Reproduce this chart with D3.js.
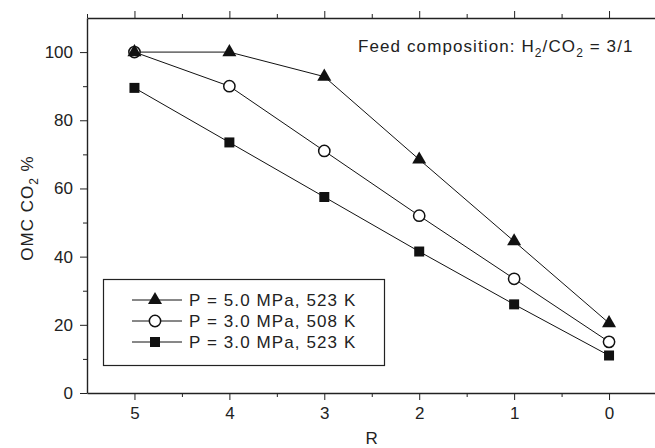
<!DOCTYPE html>
<html>
<head>
<meta charset="utf-8">
<script src="https://cdn.jsdelivr.net/npm/d3@7"></script>
<style>
  body { margin: 0; background: #fff; }
  svg { display: block; font-family: "Liberation Sans", Arial, sans-serif; }
  .axis path, .axis line { stroke: #222; }
  .axis path { stroke-width: 1.4; }
  .axis text { font-size: 17px; fill: #222; font-family: "Liberation Sans", Arial, sans-serif; }
</style>
</head>
<body>
<div class="container"></div>
<script>
const WIDTH = 655;
const HEIGHT = 448;

const rValues = [5, 4, 3, 2, 1, 0];
const omc5_523 = [100, 100, 92.8, 68.5, 44.5, 20.5];
const omc3_508 = [100, 90, 71, 52, 33.5, 15];
const omc3_523 = [89.5, 73.5, 57.5, 41.5, 26, 11];
const seriesNames = ["P = 5.0 MPa, 523 K", "P = 3.0 MPa, 508 K", "P = 3.0 MPa, 523 K"];
const xTicks = [5, 4, 3, 2, 1, 0];
const xMinor = [4.5, 3.5, 2.5, 1.5, 0.5];
const yTicks = [0, 20, 40, 60, 80, 100];
const yMinor = [10, 30, 50, 70, 90];

var xScale = d3.scaleLinear().domain([5.5, -0.5]).range([87, 656.5]);
var yScale = d3.scaleLinear().domain([0, 110]).range([393, 18]);

var translate = function(x, y){
    return "translate(" + x + "," + y + ")";
};

var svg = d3.select('.container').append('svg')
    .attr('width', WIDTH)
    .attr('height', HEIGHT);

// axes: bottom, top, left (no right axis visible)
svg.append('g').attr('class', 'axis')
    .attr('transform', translate(0, yScale(0)))
    .call(d3.axisBottom(xScale).tickValues(xTicks).tickFormat(d3.format('d'))
        .tickSize(7).tickPadding(7).tickSizeOuter(0));
svg.append('g').attr('class', 'axis')
    .attr('transform', translate(0, yScale(0)))
    .call(d3.axisBottom(xScale).tickValues(xMinor).tickSize(4).tickFormat('').tickSizeOuter(0))
    .select('.domain').remove();

svg.append('g').attr('class', 'axis')
    .attr('transform', translate(0, yScale(110)))
    .call(d3.axisTop(xScale).tickValues(xTicks).tickSize(7).tickFormat('').tickSizeOuter(0));
svg.append('g').attr('class', 'axis')
    .attr('transform', translate(0, yScale(110)))
    .call(d3.axisTop(xScale).tickValues(xMinor.concat([5.5])).tickSize(4).tickFormat('').tickSizeOuter(0))
    .select('.domain').remove();

svg.append('g').attr('class', 'axis')
    .attr('transform', translate(xScale(5.5), 0))
    .call(d3.axisLeft(yScale).tickValues(yTicks).tickFormat(d3.format('d'))
        .tickSize(7).tickPadding(7).tickSizeOuter(0));
svg.append('g').attr('class', 'axis')
    .attr('transform', translate(xScale(5.5), 0))
    .call(d3.axisLeft(yScale).tickValues(yMinor).tickSize(4).tickFormat('').tickSizeOuter(0))
    .select('.domain').remove();

// axis titles
svg.append('text')
    .attr('x', (xScale(5.5) + xScale(-0.5)) / 2)
    .attr('y', 444)
    .attr('text-anchor', 'middle')
    .style('font-size', '17px').style('fill', '#222')
    .text('R');

var yTitle = svg.append('text')
    .attr('transform', translate(33, 208) + ' rotate(-90)')
    .attr('text-anchor', 'middle')
    .style('font-size', '17px').style('fill', '#222')
    .style('letter-spacing', '1px');
yTitle.append('tspan').text('OMC CO');
yTitle.append('tspan').attr('dy', 5).style('font-size', '12px').text('2');
yTitle.append('tspan').attr('dy', -5).text(' %');

// annotation
var note = svg.append('text')
    .attr('x', 358).attr('y', 52)
    .style('font-size', '17px').style('fill', '#222')
    .style('letter-spacing', '1.1px');
note.append('tspan').text('Feed composition: H');
note.append('tspan').attr('dy', 5).style('font-size', '12px').text('2');
note.append('tspan').attr('dy', -5).text('/CO');
note.append('tspan').attr('dy', 5).style('font-size', '12px').text('2');
note.append('tspan').attr('dy', -5).text(' = 3/1');

// series
var makePoints = function(values){
    return rValues.map(function(r, i){ return {x: r, y: values[i]}; });
};

var line = d3.line()
    .x(function(d){ return xScale(d.x); })
    .y(function(d){ return yScale(d.y); });

var series = [
    {name: seriesNames[2], data: makePoints(omc3_523), symbol: d3.symbolSquare, size: 100, fill: '#111'},
    {name: seriesNames[1], data: makePoints(omc3_508), symbol: d3.symbolCircle, size: 100, fill: '#fff'},
    {name: seriesNames[0], data: makePoints(omc5_523), symbol: d3.symbolTriangle, size: 85, fill: '#111'}
];

series.forEach(function(s){
    svg.append('path')
        .datum(s.data)
        .attr('d', line)
        .attr('fill', 'none')
        .attr('stroke', '#111')
        .attr('stroke-width', 1);
});

series.forEach(function(s){
    var sym = d3.symbol().type(s.symbol).size(s.size);
    svg.append('g').selectAll('path')
        .data(s.data)
        .enter()
        .append('path')
        .attr('d', sym)
        .attr('transform', function(d){ return translate(xScale(d.x), yScale(d.y)); })
        .attr('fill', s.fill)
        .attr('stroke', s.fill === '#fff' ? '#111' : 'none')
        .attr('stroke-width', 1.5);
});

// legend
var legend = svg.append('g').attr('transform', translate(103, 279));
legend.append('rect')
    .attr('x', 0.5).attr('y', 0.5)
    .attr('width', 281).attr('height', 86)
    .attr('fill', '#fff')
    .attr('stroke', '#222')
    .attr('stroke-width', 1.2);

var legendItems = [series[2], series[1], series[0]];
legendItems.forEach(function(s, i){
    var row = legend.append('g').attr('transform', translate(0, 21 + i * 21));
    row.append('line')
        .attr('x1', 29).attr('x2', 79)
        .attr('stroke', '#111').attr('stroke-width', 1);
    row.append('path')
        .attr('d', d3.symbol().type(s.symbol).size(s.size)())
        .attr('transform', translate(52, 0))
        .attr('fill', s.fill)
        .attr('stroke', s.fill === '#fff' ? '#111' : 'none')
        .attr('stroke-width', 1.5);
    row.append('text')
        .attr('x', 86).attr('y', 6)
        .style('font-size', '17px').style('fill', '#222')
        .style('letter-spacing', '1.1px')
        .text(s.name);
});
</script>
</body>
</html>
